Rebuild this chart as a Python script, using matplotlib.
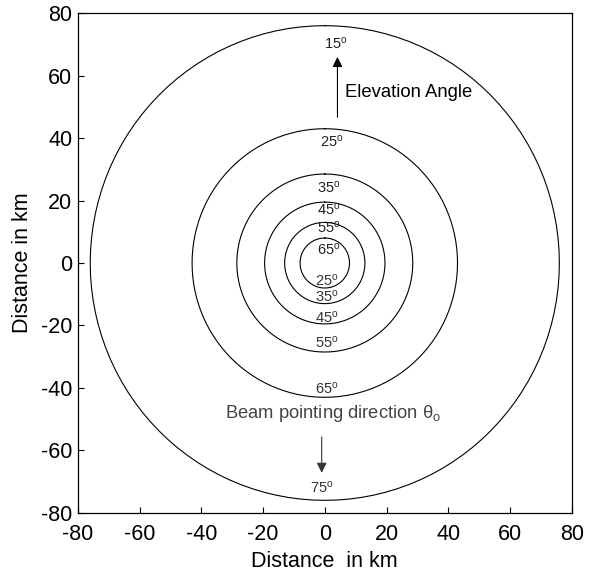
import numpy as np
import matplotlib
matplotlib.use("Agg")
import matplotlib.pyplot as plt

plt.rcParams['font.family'] = ['Liberation Sans', 'DejaVu Sans']
plt.rcParams['mathtext.fontset'] = 'custom'
plt.rcParams['mathtext.rm'] = 'Liberation Sans'
plt.rcParams['mathtext.it'] = 'Liberation Sans:italic'
plt.rcParams['axes.unicode_minus'] = False

# Ground footprint radii (km) of constant elevation-angle contours
radii_km = [76, 43, 28.5, 19.5, 13, 8]

# Elevation angles marked on the upper and lower side of the contours
upper_angles = [15, 25, 35, 45, 55, 65]
lower_angles = [25, 35, 45, 55, 65, 75]

ticks = [-80, -60, -40, -20, 0, 20, 40, 60, 80]

fig = plt.figure(figsize=(5.90, 5.73), dpi=100)
ax = fig.add_axes([0.132, 0.105, 0.837, 0.872])

theta = np.linspace(0, 2 * np.pi, 121)
for r in radii_km:
    ax.plot(r * np.sin(theta), r * np.cos(theta), color='black', lw=0.8)

# label placement (x, y) for the upper and lower angle annotations
upper_pos = [(3.6, 70.4), (2.3, 38.9), (1.3, 24.1), (1.3, 17.0), (1.3, 11.2), (1.3, 4.2)]
lower_pos = [(0.5, -5.5), (0.5, -10.9), (0.5, -17.4), (0.5, -25.4), (0.5, -40.2), (-1.0, -72.0)]

for a, (x, y) in zip(upper_angles, upper_pos):
    ax.text(x, y, r'%d$^{\mathrm{o}}$' % a, ha='center', va='center',
            fontsize=10.5, color='#222222')
for a, (x, y) in zip(lower_angles, lower_pos):
    ax.text(x, y, r'%d$^{\mathrm{o}}$' % a, ha='center', va='center',
            fontsize=10.5, color='#333333')

ax.annotate('', xy=(4.1, 66.0), xytext=(4.1, 46.7),
            arrowprops=dict(arrowstyle='-|>', color='black', lw=0.8,
                            mutation_scale=15, shrinkA=0, shrinkB=0))
ax.text(6.4, 54.7, 'Elevation Angle', ha='left', va='center', fontsize=13.3,
        color='black')

ax.annotate('', xy=(-1.0, -67.2), xytext=(-1.0, -55.7),
            arrowprops=dict(arrowstyle='-|>', color='#333333', lw=0.8,
                            mutation_scale=15, shrinkA=0, shrinkB=0))
ax.text(-32.4, -48.2, r'Beam pointing direction θ$_{\mathrm{o}}$', ha='left',
        va='center', fontsize=13.2, color='#444444')

ax.set_xlim(-80, 80)
ax.set_ylim(-80, 80)
ax.set_xticks(ticks)
ax.set_yticks(ticks)
ax.tick_params(direction='in', length=4, width=0.8, labelsize=15.5,
               top=False, right=False)
ax.tick_params(axis='x', pad=8)
ax.tick_params(axis='y', pad=4)
for s in ax.spines.values():
    s.set_linewidth(0.9)
ax.set_xlabel('Distance  in km', fontsize=15.5, labelpad=4)
ax.set_ylabel('Distance in km', fontsize=15.5, labelpad=6)

fig.savefig('out.png', dpi=100)
